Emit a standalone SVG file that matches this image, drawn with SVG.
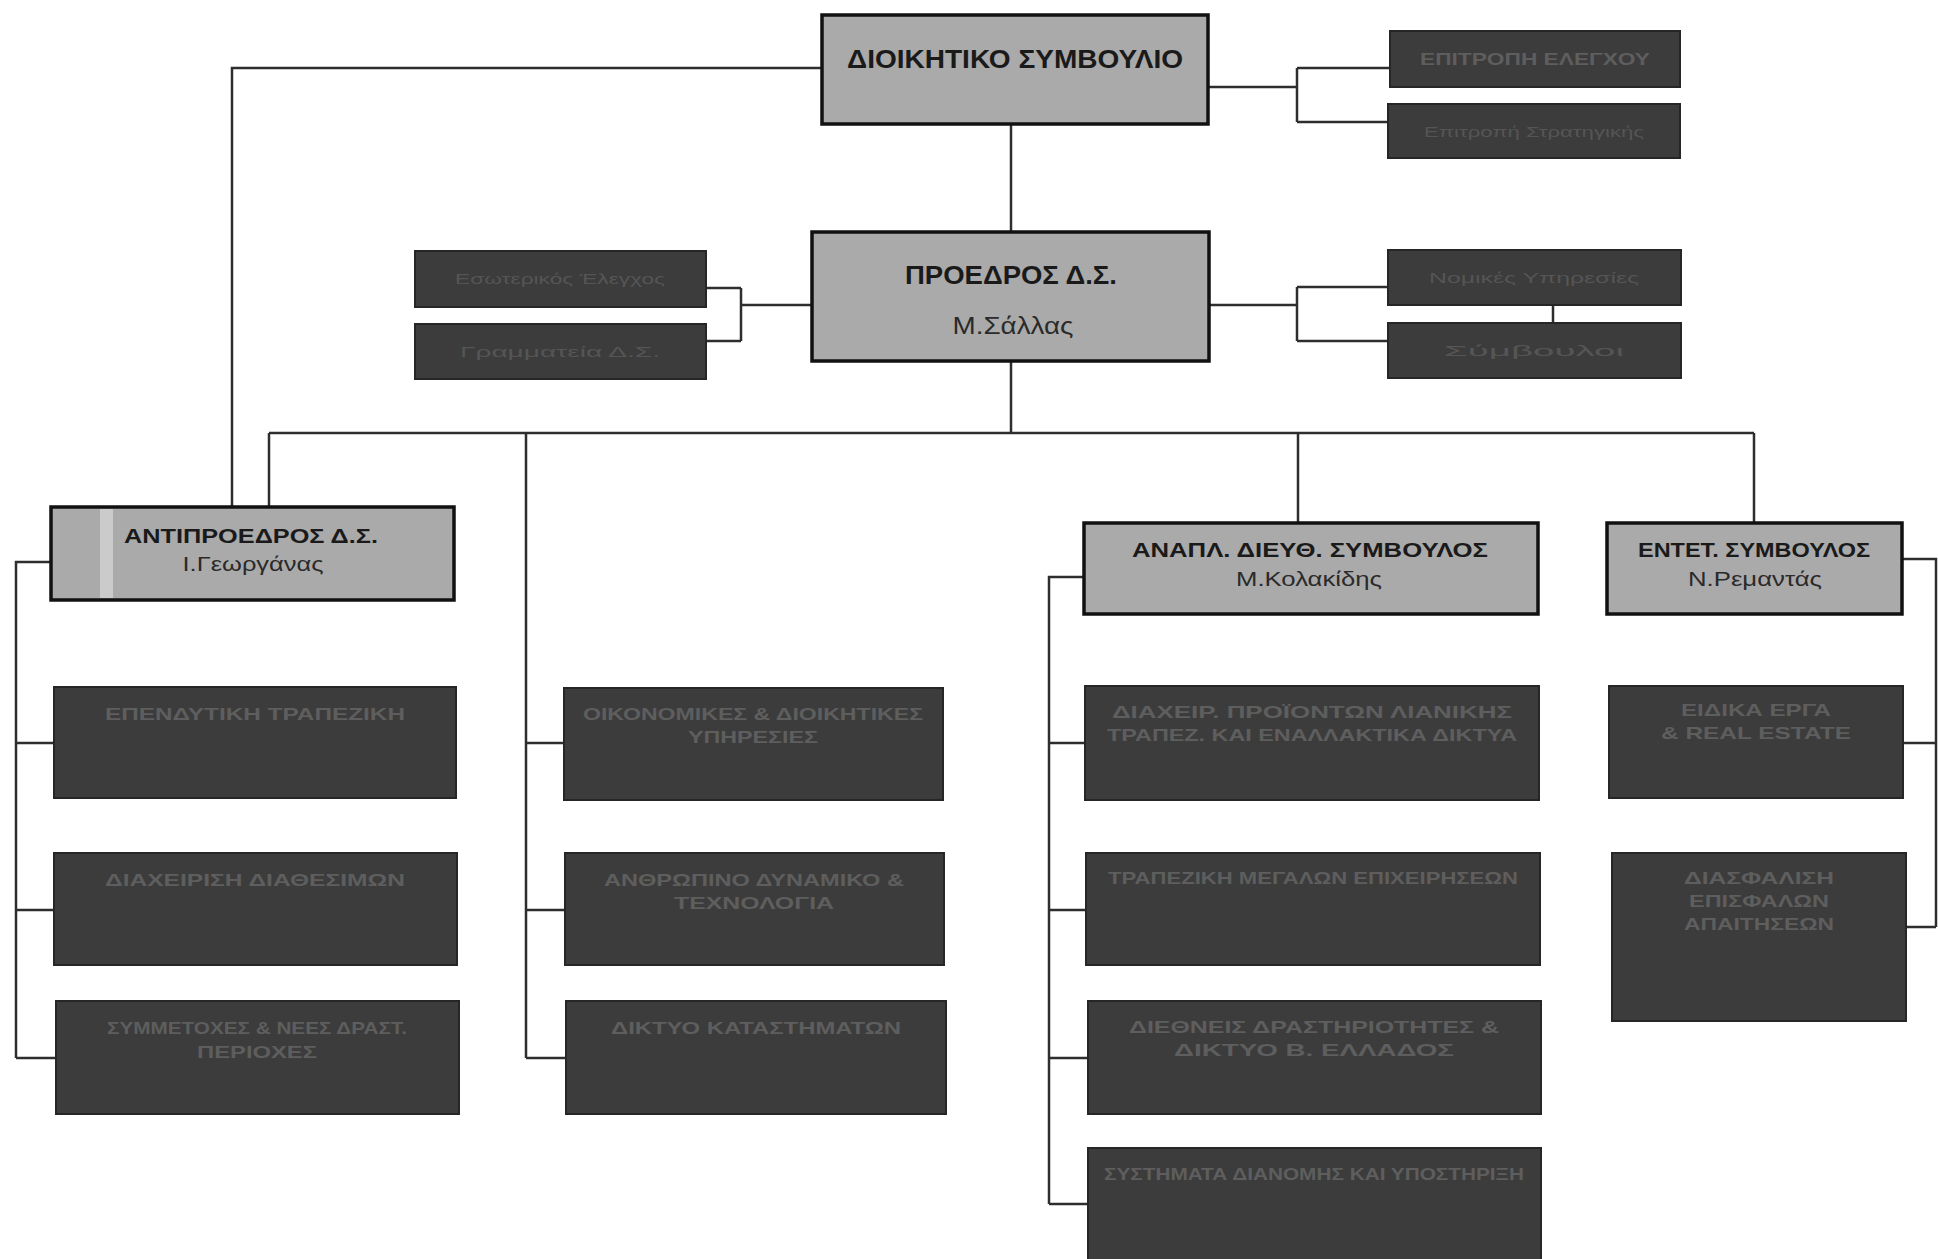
<svg xmlns="http://www.w3.org/2000/svg" width="1938" height="1259" viewBox="0 0 1938 1259">
  <style>
    .head { fill: #aaaaaa; stroke: #111111; stroke-width: 3.5; }
    .unit { fill: #3c3c3c; stroke: #262626; stroke-width: 2; }
    .ht { font-family: "Liberation Sans", Arial, sans-serif; font-weight: bold; fill: #1a1a1a; text-anchor: middle; }
    .hn { font-family: "Liberation Sans", Arial, sans-serif; fill: #2a2a2a; text-anchor: middle; }
    .ut { font-family: "Liberation Sans", Arial, sans-serif; font-weight: bold; fill: #5e5e5e; text-anchor: middle; font-size: 17px; }
    .us { font-family: "Liberation Sans", Arial, sans-serif; fill: #555555; text-anchor: middle; font-size: 15px; }
    .wire { fill: none; stroke: #2e2e2e; stroke-width: 2.5; }
    .streak { fill: #e6e6e6; opacity: 0.55; }
  </style>

  <rect width="1938" height="1259" fill="#ffffff"/>

  <!-- connectors -->
  <g id="connectors" class="wire">
    <!-- board to chairman -->
    <path d="M1011 124 V232"/>
    <!-- board to committees -->
    <path d="M1208 87 H1297 M1297 68 V122 M1297 68 H1390 M1297 122 H1388"/>
    <!-- board to vice-chairman -->
    <path d="M822 68 H232 V507"/>
    <!-- chairman side units -->
    <path d="M812 305 H741 M741 288 V341 M741 288 H706 M741 341 H706"/>
    <path d="M1209 305 H1297 M1297 287 V341 M1297 287 H1388 M1297 341 H1388"/>
    <path d="M1553 305 V323"/>
    <!-- main bus -->
    <path d="M1011 361 V433 M269 433 H1754"/>
    <path d="M269 433 V507"/>
    <path d="M1298 433 V523"/>
    <path d="M1754 433 V523"/>
    <!-- middle column -->
    <path d="M526 433 V1058 M526 743 H564 M526 910 H565 M526 1058 H566"/>
    <!-- vice-chairman column -->
    <path d="M51 562 H16 V1058 M16 743 H54 M16 910 H54 M16 1058 H56"/>
    <!-- deputy MD column -->
    <path d="M1084 577 H1049 V1204 M1049 743 H1085 M1049 910 H1086 M1049 1058 H1088 M1049 1204 H1088"/>
    <!-- executive advisor column -->
    <path d="M1902 559 H1936 V927 M1936 743 H1903 M1936 927 H1906"/>
  </g>

  <!-- top level -->
  <g id="board">
    <rect class="head" x="822" y="15" width="386" height="109"/>
    <text class="ht" x="1015" y="68" font-size="25" textLength="336" lengthAdjust="spacingAndGlyphs">ΔΙΟΙΚΗΤΙΚΟ ΣΥΜΒΟΥΛΙΟ</text>
  </g>

  <g id="audit-committee">
    <rect class="unit" x="1390" y="31" width="290" height="56"/>
    <text class="ut" x="1535" y="65" textLength="230" lengthAdjust="spacingAndGlyphs">ΕΠΙΤΡΟΠΗ ΕΛΕΓΧΟΥ</text>
  </g>
  <g id="strategy-committee">
    <rect class="unit" x="1388" y="104" width="292" height="54"/>
    <text class="us" x="1534" y="137" textLength="220" lengthAdjust="spacingAndGlyphs">Επιτροπή Στρατηγικής</text>
  </g>

  <!-- chairman -->
  <g id="chairman">
    <rect class="head" x="812" y="232" width="397" height="129"/>
    <text class="ht" x="1011" y="284" font-size="25" textLength="212" lengthAdjust="spacingAndGlyphs">ΠΡΟΕΔΡΟΣ Δ.Σ.</text>
    <text class="hn" x="1013" y="334" font-size="24" textLength="121" lengthAdjust="spacingAndGlyphs">Μ.Σάλλας</text>
  </g>

  <g id="chairman-left-1">
    <rect class="unit" x="415" y="251" width="291" height="56"/>
    <text class="us" x="560" y="284" textLength="210" lengthAdjust="spacingAndGlyphs">Εσωτερικός Έλεγχος</text>
  </g>
  <g id="chairman-left-2">
    <rect class="unit" x="415" y="324" width="291" height="55"/>
    <text class="us" x="560" y="357" textLength="200" lengthAdjust="spacingAndGlyphs">Γραμματεία Δ.Σ.</text>
  </g>
  <g id="chairman-right-1">
    <rect class="unit" x="1388" y="250" width="293" height="55"/>
    <text class="us" x="1534" y="283" textLength="210" lengthAdjust="spacingAndGlyphs">Νομικές Υπηρεσίες</text>
  </g>
  <g id="chairman-right-2">
    <rect class="unit" x="1388" y="323" width="293" height="55"/>
    <text class="us" x="1534" y="356" textLength="180" lengthAdjust="spacingAndGlyphs">Σύμβουλοι</text>
  </g>

  <!-- second level -->
  <g id="vice-chairman">
    <rect class="head" x="51" y="507" width="403" height="93"/>
    <rect class="streak" x="100" y="509" width="13" height="89"/>
    <text class="ht" x="251" y="543" font-size="21" textLength="254" lengthAdjust="spacingAndGlyphs">ΑΝΤΙΠΡΟΕΔΡΟΣ Δ.Σ.</text>
    <text class="hn" x="253" y="571" font-size="21" textLength="141" lengthAdjust="spacingAndGlyphs">Ι.Γεωργάνας</text>
  </g>

  <g id="deputy-md">
    <rect class="head" x="1084" y="523" width="454" height="91"/>
    <text class="ht" x="1310" y="557" font-size="21" textLength="356" lengthAdjust="spacingAndGlyphs">ΑΝΑΠΛ. ΔΙΕΥΘ. ΣΥΜΒΟΥΛΟΣ</text>
    <text class="hn" x="1309" y="586" font-size="21" textLength="146" lengthAdjust="spacingAndGlyphs">Μ.Κολακίδης</text>
  </g>

  <g id="exec-advisor">
    <rect class="head" x="1607" y="523" width="295" height="91"/>
    <text class="ht" x="1754" y="557" font-size="21" textLength="232" lengthAdjust="spacingAndGlyphs">ΕΝΤΕΤ. ΣΥΜΒΟΥΛΟΣ</text>
    <text class="hn" x="1755" y="586" font-size="21" textLength="134" lengthAdjust="spacingAndGlyphs">Ν.Ρεμαντάς</text>
  </g>

  <!-- vice-chairman units -->
  <g id="investment-banking">
    <rect class="unit" x="54" y="687" width="402" height="111"/>
    <text class="ut" x="255" y="720" textLength="300" lengthAdjust="spacingAndGlyphs">ΕΠΕΝΔΥΤΙΚΗ ΤΡΑΠΕΖΙΚΗ</text>
  </g>
  <g id="treasury">
    <rect class="unit" x="54" y="853" width="403" height="112"/>
    <text class="ut" x="255" y="886" textLength="300" lengthAdjust="spacingAndGlyphs">ΔΙΑΧΕΙΡΙΣΗ ΔΙΑΘΕΣΙΜΩΝ</text>
  </g>
  <g id="holdings">
    <rect class="unit" x="56" y="1001" width="403" height="113"/>
    <text class="ut" x="257" y="1034" textLength="300" lengthAdjust="spacingAndGlyphs">ΣΥΜΜΕΤΟΧΕΣ &amp; ΝΕΕΣ ΔΡΑΣΤ.</text>
    <text class="ut" x="257" y="1058" textLength="120" lengthAdjust="spacingAndGlyphs">ΠΕΡΙΟΧΕΣ</text>
  </g>

  <!-- chairman direct units -->
  <g id="finance-admin">
    <rect class="unit" x="564" y="688" width="379" height="112"/>
    <text class="ut" x="753" y="720" textLength="340" lengthAdjust="spacingAndGlyphs">ΟΙΚΟΝΟΜΙΚΕΣ &amp; ΔΙΟΙΚΗΤΙΚΕΣ</text>
    <text class="ut" x="753" y="743" textLength="130" lengthAdjust="spacingAndGlyphs">ΥΠΗΡΕΣΙΕΣ</text>
  </g>
  <g id="human-resources">
    <rect class="unit" x="565" y="853" width="379" height="112"/>
    <text class="ut" x="754" y="886" textLength="300" lengthAdjust="spacingAndGlyphs">ΑΝΘΡΩΠΙΝΟ ΔΥΝΑΜΙΚΟ &amp;</text>
    <text class="ut" x="754" y="909" textLength="160" lengthAdjust="spacingAndGlyphs">ΤΕΧΝΟΛΟΓΙΑ</text>
  </g>
  <g id="branch-network">
    <rect class="unit" x="566" y="1001" width="380" height="113"/>
    <text class="ut" x="756" y="1034" textLength="290" lengthAdjust="spacingAndGlyphs">ΔΙΚΤΥΟ ΚΑΤΑΣΤΗΜΑΤΩΝ</text>
  </g>

  <!-- deputy MD units -->
  <g id="retail-products">
    <rect class="unit" x="1085" y="686" width="454" height="114"/>
    <text class="ut" x="1312" y="718" textLength="400" lengthAdjust="spacingAndGlyphs">ΔΙΑΧΕΙΡ. ΠΡΟΪΟΝΤΩΝ ΛΙΑΝΙΚΗΣ</text>
    <text class="ut" x="1312" y="741" textLength="410" lengthAdjust="spacingAndGlyphs">ΤΡΑΠΕΖ. ΚΑΙ ΕΝΑΛΛΑΚΤΙΚΑ ΔΙΚΤΥΑ</text>
  </g>
  <g id="corporate-banking">
    <rect class="unit" x="1086" y="853" width="454" height="112"/>
    <text class="ut" x="1313" y="884" textLength="410" lengthAdjust="spacingAndGlyphs">ΤΡΑΠΕΖΙΚΗ ΜΕΓΑΛΩΝ ΕΠΙΧΕΙΡΗΣΕΩΝ</text>
  </g>
  <g id="international">
    <rect class="unit" x="1088" y="1001" width="453" height="113"/>
    <text class="ut" x="1314" y="1033" textLength="370" lengthAdjust="spacingAndGlyphs">ΔΙΕΘΝΕΙΣ ΔΡΑΣΤΗΡΙΟΤΗΤΕΣ &amp;</text>
    <text class="ut" x="1314" y="1056" textLength="280" lengthAdjust="spacingAndGlyphs">ΔΙΚΤΥΟ Β. ΕΛΛΑΔΟΣ</text>
  </g>
  <g id="distribution-systems">
    <rect class="unit" x="1088" y="1148" width="453" height="114"/>
    <text class="ut" x="1314" y="1180" textLength="420" lengthAdjust="spacingAndGlyphs">ΣΥΣΤΗΜΑΤΑ ΔΙΑΝΟΜΗΣ ΚΑΙ ΥΠΟΣΤΗΡΙΞΗ</text>
  </g>

  <!-- executive advisor units -->
  <g id="special-projects">
    <rect class="unit" x="1609" y="686" width="294" height="112"/>
    <text class="ut" x="1756" y="716" textLength="150" lengthAdjust="spacingAndGlyphs">ΕΙΔΙΚΑ ΕΡΓΑ</text>
    <text class="ut" x="1756" y="739" textLength="190" lengthAdjust="spacingAndGlyphs">&amp; REAL ESTATE</text>
  </g>
  <g id="doubtful-claims">
    <rect class="unit" x="1612" y="853" width="294" height="168"/>
    <text class="ut" x="1759" y="884" textLength="150" lengthAdjust="spacingAndGlyphs">ΔΙΑΣΦΑΛΙΣΗ</text>
    <text class="ut" x="1759" y="907" textLength="140" lengthAdjust="spacingAndGlyphs">ΕΠΙΣΦΑΛΩΝ</text>
    <text class="ut" x="1759" y="930" textLength="150" lengthAdjust="spacingAndGlyphs">ΑΠΑΙΤΗΣΕΩΝ</text>
  </g>
</svg>
